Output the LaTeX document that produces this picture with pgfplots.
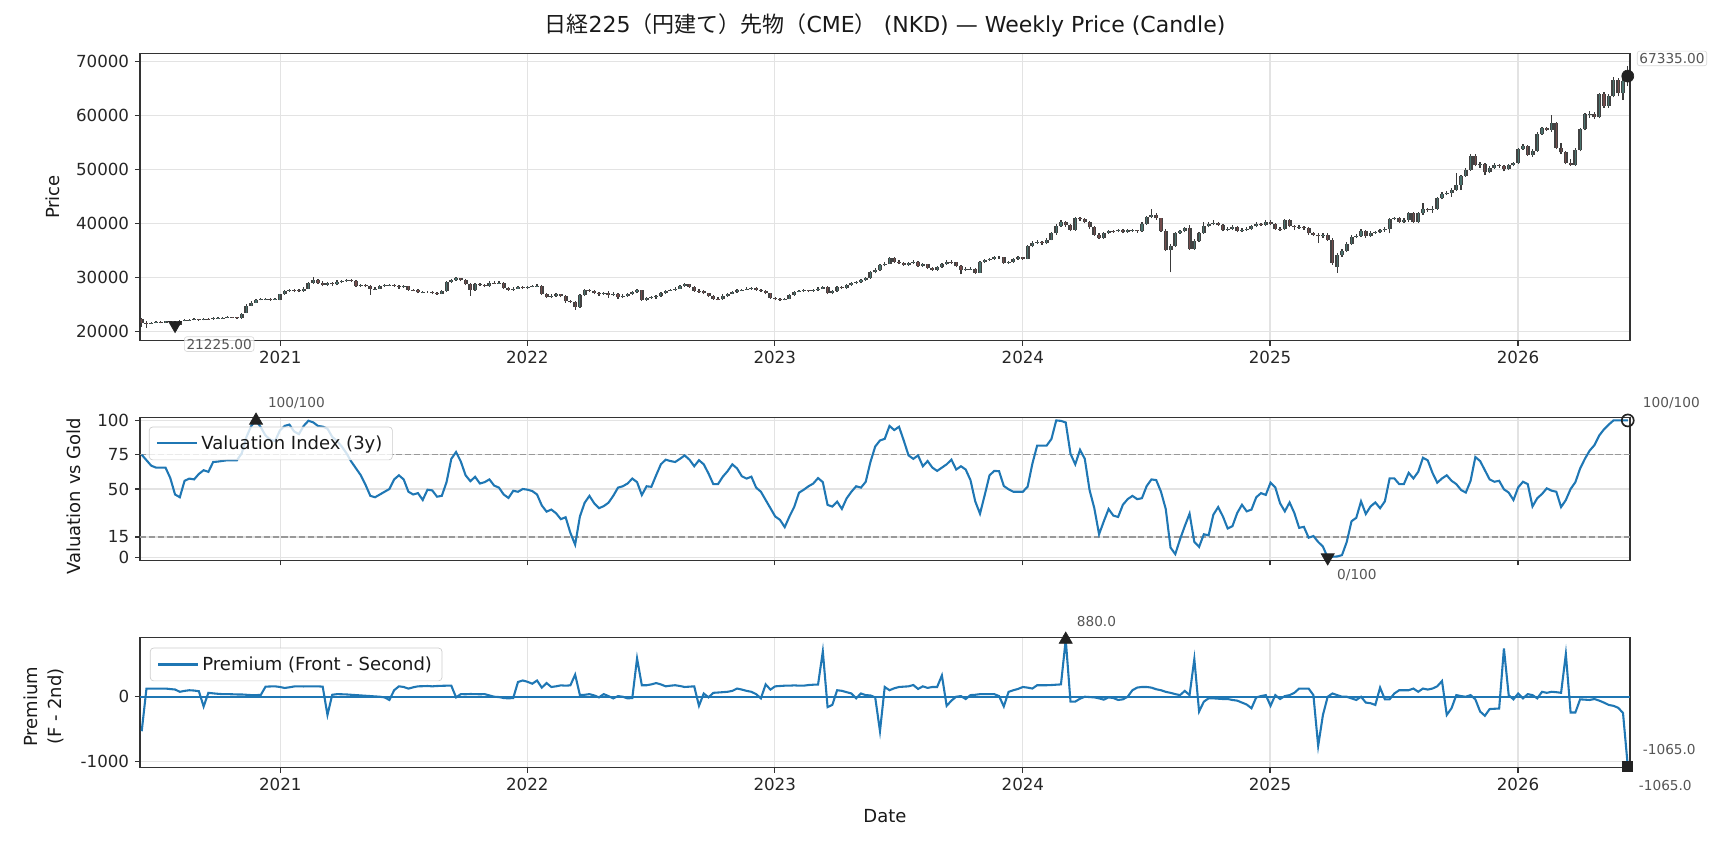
\documentclass[border=0pt]{standalone}
\usepackage{fontspec}
\setmainfont{DejaVu Sans}
\newfontfamily\cjk{Noto Sans CJK JP}
\usepackage{pgfplots}
\usepackage{pgfplotstable}
\pgfplotsset{compat=1.18}

\definecolor{seriesblue}{HTML}{1F77B4}
\definecolor{wickc}{HTML}{3A3A3A}
\definecolor{bodyedge}{HTML}{424242}
\definecolor{upc}{HTML}{4A736E}
\definecolor{downc}{HTML}{744C4C}
\definecolor{markc}{HTML}{222222}
\definecolor{annc}{HTML}{555555}
\definecolor{gridc}{HTML}{E3E3E3}
\definecolor{refgray}{HTML}{999999}

% weekly OHLC, w = week index from the first bar
\pgfplotstableread{
w o h l c
0 22400 22600 20900 21700
1 21700 21900 20750 21500
2 21500 21800 21400 21650
3 21650 21950 21550 21800
4 21800 21900 21550 21700
5 21700 22050 21600 21900
6 21900 22000 21700 21850
7 21850 21950 21100 21225
8 21225 22100 21200 22000
9 22000 22300 21900 22150
10 22150 22400 22050 22250
11 22250 22450 22100 22300
12 22300 22400 21950 22200
13 22200 22550 22100 22400
14 22400 22500 22200 22350
15 22350 22650 22250 22500
16 22500 22700 22400 22550
17 22550 22750 22450 22600
18 22600 22850 22500 22700
19 22700 22800 22500 22650
20 22650 22750 22350 22500
21 22600 23500 22400 23300
22 23500 25100 23400 24800
23 24800 25600 24700 25400
24 25400 26100 25300 25900
25 25900 26200 25800 26000
26 26000 26250 25850 26050
27 26050 26200 25750 25950
28 25950 26300 25850 26100
29 25900 27000 25800 26900
30 26900 27800 26800 27600
31 27600 28000 27400 27800
32 27800 28000 27300 27700
33 27700 27900 27300 27500
34 27500 28200 27400 28000
35 28000 29200 27900 29000
36 29000 30100 28900 29600
37 29600 29800 28900 29100
38 29100 29300 28400 28700
39 28700 29200 28500 29000
40 29000 29200 28500 28800
41 28800 29500 28600 29200
42 29200 29500 29000 29300
43 29300 29800 29200 29600
44 29600 29700 29200 29400
45 29400 29500 28300 28500
46 28500 28900 28300 28700
47 28700 28900 28200 28400
48 28400 28700 26800 27900
49 27900 28300 27700 28000
50 28000 28700 27900 28500
51 28500 28800 28300 28600
52 28600 28900 28400 28700
53 28700 28900 28300 28500
54 28500 28700 28000 28300
55 28300 28600 28100 28400
56 28400 28500 27600 27800
57 27800 28000 27500 27700
58 27700 27900 27100 27300
59 27300 27600 27100 27400
60 27400 27600 27200 27400
61 27400 27600 26900 27200
62 27200 27400 26800 27000
63 27000 27700 26900 27500
64 27500 29400 27400 29200
65 29200 29800 29000 29600
66 29600 30200 29400 29900
67 29900 30000 29300 29500
68 29500 29700 28600 28800
69 28800 29000 26700 27800
70 27800 29000 27600 28800
71 28800 29000 28500 28700
72 28700 28900 28200 28400
73 28400 29300 28300 29100
74 29100 29300 28800 29000
75 29000 29300 28900 29100
76 29100 29200 27900 28100
77 28100 28300 27600 27800
78 27800 28200 27600 28000
79 28000 28400 27900 28200
80 28200 28400 27900 28100
81 28100 28500 28000 28300
82 28300 28600 28200 28400
83 28400 28900 28200 28500
84 28500 28600 26800 27000
85 27000 27200 26200 26400
86 26400 26900 26200 26700
87 26700 27100 26500 26900
88 26900 27000 26400 26600
89 26600 26800 25400 25600
90 25600 25900 25300 25500
91 25500 25700 24100 24600
92 24600 27000 24400 26800
93 26800 28000 26600 27800
94 27800 28000 27300 27600
95 27600 27800 26900 27100
96 27100 27400 26700 27000
97 27000 27400 26800 27200
98 27200 27500 26300 26800
99 26800 27300 26600 27000
100 27000 27200 26100 26400
101 26400 26900 26200 26700
102 26700 27200 26500 27000
103 27000 27500 26800 27300
104 27300 28000 27100 27700
105 27700 27800 25700 25900
106 25900 26500 25700 26300
107 26300 26600 26100 26400
108 26400 26800 26100 26600
109 26600 27300 26500 27100
110 27100 27800 27000 27600
111 27600 28000 27500 27800
112 27800 28200 27600 28000
113 28000 28600 27900 28400
114 28400 29000 28300 28800
115 28800 28900 28100 28300
116 28300 28400 27400 27600
117 27600 27900 27200 27500
118 27500 27700 26900 27100
119 27100 27200 26400 26600
120 26600 26800 25900 26100
121 26100 26400 25800 26000
122 26000 26900 25900 26700
123 26700 27200 26500 27000
124 27000 27500 26900 27300
125 27300 27900 27200 27700
126 27700 28000 27600 27800
127 27800 28200 27700 28000
128 28000 28300 27800 28100
129 28100 28200 27600 27800
130 27800 28000 27400 27600
131 27600 27700 26900 27100
132 27100 27200 26100 26300
133 26300 26500 25800 26000
134 26000 26200 25700 25900
135 25900 26300 25800 26100
136 26100 27000 26000 26800
137 26800 27600 26700 27400
138 27400 27700 27300 27500
139 27500 27900 27400 27700
140 27700 27800 27300 27500
141 27500 27900 27400 27700
142 27700 28200 27500 28000
143 28000 28500 27900 28300
144 28300 28400 26900 27100
145 27100 27700 26900 27500
146 27500 28400 27400 28200
147 28200 28400 27900 28100
148 28100 28800 28000 28600
149 28600 29200 28500 29000
150 29000 29400 28800 29200
151 29200 29700 29000 29500
152 29500 30100 29400 29900
153 29900 31200 29800 31000
154 31000 31800 30800 31500
155 31500 32500 31300 32300
156 32300 32900 32100 32600
157 32600 33900 32500 33600
158 33600 33900 32800 33000
159 33000 33200 32500 32800
160 32800 33000 32200 32400
161 32400 32900 32200 32700
162 32700 33300 32500 33000
163 33000 33100 32000 32200
164 32200 32700 32000 32500
165 32500 32600 31600 31800
166 31800 32000 31300 31500
167 31500 32200 31300 32000
168 32000 32800 31800 32600
169 32600 33300 32400 33000
170 33000 33200 32600 32900
171 32900 33000 31900 32100
172 32100 32300 30600 31500
173 31500 31900 31300 31600
174 31600 32000 31400 31700
175 31700 31800 30700 30900
176 30900 33100 30800 32900
177 32900 33500 32700 33300
178 33300 33700 33100 33500
179 33500 34000 33300 33800
180 33800 34100 33500 33800
181 33800 33900 32600 32800
182 32800 33100 32600 32900
183 32900 33700 32700 33500
184 33500 34000 33300 33800
185 33800 33900 33300 33500
186 33500 36000 33400 35800
187 35800 36800 35600 36500
188 36500 36900 36200 36600
189 36600 36800 36100 36400
190 36400 37300 36200 37000
191 37000 38500 36900 38200
192 38200 39900 38000 39600
193 39600 40600 39400 40300
194 40300 40500 39400 39700
195 39700 39900 38600 38900
196 38900 41300 38700 41000
197 41000 41200 40500 40800
198 40800 41000 40100 40300
199 40300 40500 39000 39300
200 39300 39500 37800 38000
201 38000 38300 37200 37400
202 37400 38500 37200 38300
203 38300 38900 38100 38700
204 38700 38900 38300 38600
205 38600 39100 38400 38900
206 38900 39000 38200 38500
207 38500 39000 38300 38800
208 38800 39100 38500 38850
209 38850 38900 38300 38600
210 38600 40300 38500 40000
211 40000 41500 39800 41200
212 41200 42800 41000 41600
213 41600 41900 40700 41000
214 41000 41100 38500 38700
215 38700 39000 34900 35100
216 35100 36200 31000 35900
217 35900 38500 35700 38300
218 38300 38900 38100 38600
219 38600 39400 38400 39200
220 39200 39700 35200 35400
221 35400 37100 35200 36800
222 36800 38500 36600 38300
223 38300 40300 38100 39500
224 39500 40300 39300 39900
225 39900 40600 39700 40200
226 40200 40400 39600 39800
227 39800 39900 38600 38800
228 38800 39300 38600 39000
229 39000 39700 38800 39400
230 39400 39500 38400 38700
231 38700 39200 38500 38900
232 38900 39300 38700 39000
233 39000 39700 38800 39500
234 39500 40300 39300 40000
235 40000 40200 39600 39800
236 39800 40700 39600 40400
237 40400 40600 39700 39900
238 39900 40100 38900 39100
239 39100 39400 38700 39000
240 39000 40900 38800 40600
241 40600 40800 39300 39500
242 39500 39700 38800 39300
243 39300 39800 39000 39400
244 39400 39600 38900 39200
245 39200 39300 37900 38200
246 38200 38500 37700 38000
247 38000 38300 36400 37700
248 37700 38300 37400 38000
249 38000 38300 36800 37000
250 37000 37300 32400 32700
251 32000 34500 30900 34200
252 34200 35300 33900 35000
253 35000 36600 34800 36300
254 36300 37900 36100 37500
255 37500 38100 37300 37800
256 37800 39000 37600 38600
257 38600 38800 37400 37700
258 37700 38600 37500 38300
259 38300 38700 38100 38400
260 38400 39100 38200 38800
261 38800 39300 38500 39000
262 39000 41100 38200 40900
263 40900 41300 40600 41000
264 41000 41200 40200 40400
265 40400 41000 40100 40700
266 40700 42100 40400 41900
267 41900 42100 40100 40300
268 40300 42200 40100 41900
269 41900 43800 41700 42800
270 42800 43000 42200 42500
271 42500 43200 42000 42800
272 42800 45000 42600 44800
273 44800 45900 44500 45500
274 45500 46000 45300 45700
275 45700 46600 45000 46300
276 46300 49300 46100 47200
277 47200 49100 46200 48900
278 48900 50300 48700 50000
279 50000 52900 49800 52500
280 52500 52900 50600 50800
281 50800 51400 50400 51000
282 51000 51200 49000 49500
283 49500 50600 49300 50300
284 50300 51200 50100 50900
285 50900 51100 50400 50700
286 50700 50900 49700 50100
287 50100 51000 49900 50800
288 50800 51500 50600 51300
289 51300 54100 51100 53900
290 53900 54800 53700 54400
291 54400 54600 52600 52800
292 52800 53800 52400 53500
293 53500 57000 53300 56700
294 56700 58000 56500 57700
295 57700 58000 57200 57400
296 57400 60100 57000 58600
297 58600 58900 53800 54000
298 54000 55000 52900 53200
299 53200 53400 51000 51200
300 51200 52000 50700 50900
301 50900 54000 50700 53700
302 53700 57800 53400 57600
303 57600 60500 57300 60300
304 60300 60800 59600 60400
305 60400 60600 59400 59700
306 59700 64200 59500 64000
307 64000 64300 61500 61800
308 61800 64000 61500 63600
309 63600 67100 63400 66700
310 66700 67000 63600 64200
311 64200 67600 63000 66400
312 66400 69137 65500 67335
}\ohlc

\tikzset{
  annot/.style={font=\fontsize{8.2}{10}\selectfont, text=annc, inner sep=1pt},
  pricebox/.style={annot, fill=white, fill opacity=0.75, text opacity=1,
    draw=black!15, rounded corners=1.5pt, inner sep=1.3pt},
}

\pgfplotsset{
  panel/.style={
    scale only axis, width=894pt, anchor=north west,
    xmin=-0.36, xmax=312.47,
    xtick={29.1,80.96,132.9,185.0,236.9,288.96},
    xticklabels={2021,2022,2023,2024,2025,2026},
    scaled x ticks=false, scaled y ticks=false,
    grid=major,
    major grid style={draw=gridc, line width=0.7pt},
    axis line style={draw=black!80, line width=0.9pt},
    tick align=outside, xtick pos=left, ytick pos=left,
    major tick length=3pt,
    tick style={draw=black!80, line width=0.7pt},
    tick label style={font=\fontsize{10}{12}\selectfont, text=black!85},
    label style={font=\fontsize{10.8}{14.4}\selectfont, text=black!90},
    /pgf/number format/assume math mode=true,
    clip mode=individual,
    legend cell align=left,
    legend image code/.code={\draw[##1, line width=1.25pt] (0pt,0pt) -- (24pt,0pt);},
  },
  % a plot that shows nothing but its vertical error bars
  barsonly/.style 2 args={draw=none, mark=none, forget plot,
    error bars/.cd, y dir=plus, y explicit, error mark=none,
    error bar style={draw=#1, line width=#2, solid}},
  rising/.style={x filter/.expression={\thisrow{c}<\thisrow{o} ? nan : x}},
  falling/.style={x filter/.expression={\thisrow{c}<\thisrow{o} ? x : nan}},
}

\begin{document}
\begin{tikzpicture}
\useasboundingbox (0pt,0pt) rectangle (1036.8pt,-509.4pt);

% ---- weekly candles ----
\begin{axis}[panel, at={(84pt,-31.98pt)}, height=172.44pt,
  ymin=18333, ymax=71556,
  ytick={20000,30000,40000,50000,60000,70000},
  yticklabels={20000,30000,40000,50000,60000,70000},
  ylabel={Price},
  ylabel style={at={(axis description cs:-0.0584,0.5)}, anchor=center},
  title={{\cjk 日経}225{\cjk （円建て）先物（}CME{\cjk ）} (NKD) — Weekly Price (Candle)},
  title style={at={(axis description cs:0.5,1)}, anchor=center, yshift=10.8pt,
    font=\fontsize{13.2}{15}\selectfont, text=black!90},
]
% wicks
\addplot[barsonly={wickc}{0.75pt}]
  table[x=w, y=l, y error plus expr=\thisrow{h}-\thisrow{l}] {\ohlc};
% bodies, rising weeks
\addplot[rising, barsonly={bodyedge}{2.4pt}]
  table[x=w, y=o, y error plus expr=\thisrow{c}-\thisrow{o}] {\ohlc};
\addplot[rising, barsonly={upc}{0.7pt}]
  table[x=w, y=o, y error plus expr=\thisrow{c}-\thisrow{o}] {\ohlc};
% bodies, falling weeks
\addplot[falling, barsonly={bodyedge}{2.4pt}]
  table[x=w, y=c, y error plus expr=\thisrow{o}-\thisrow{c}] {\ohlc};
\addplot[falling, barsonly={downc}{0.7pt}]
  table[x=w, y=c, y error plus expr=\thisrow{o}-\thisrow{c}] {\ohlc};
% lowest close and latest close
\addplot[only marks, mark=triangle*, mark size=4.5pt, forget plot,
  mark options={rotate=180, fill=markc, draw=markc}] coordinates {(7,21225)};
\addplot[only marks, mark=*, mark size=3.6pt, forget plot,
  mark options={fill=markc, draw=markc}] coordinates {(312,67335)};
\node[pricebox, anchor=west, xshift=5.4pt, yshift=-11.4pt] at (axis cs:7,21225) {21225.00};
\node[pricebox, anchor=west, xshift=5.5pt, yshift=10.6pt] at (axis cs:312,67335) {67335.00};
\end{axis}

% ---- valuation index ----
\begin{axis}[panel, at={(84pt,-250.62pt)}, height=85.56pt,
  ymin=-2, ymax=102,
  ytick={0,15,50,75,100}, yticklabels={0,15,50,75,100},
  xticklabels={},
  ylabel={Valuation vs Gold},
  ylabel style={at={(axis description cs:-0.0443,0.45)}, anchor=center},
  legend style={at={(axis description cs:0.006,0.937)}, anchor=north west,
    draw=black!20, fill=white, fill opacity=0.8, draw opacity=1, text opacity=1,
    rounded corners=2pt, font=\fontsize{10.8}{13}\selectfont, text=black!90,
    inner xsep=4pt, inner ysep=3pt},
]
\addplot[forget plot, refgray, line width=0.9pt, dash pattern=on 3.7pt off 1.6pt]
  coordinates {(-0.36,75) (312.47,75)};
\addplot[forget plot, refgray, line width=0.9pt, dash pattern=on 3.7pt off 1.6pt]
  coordinates {(-0.36,15) (312.47,15)};
\addplot[seriesblue, line width=1.25pt] coordinates {
(0,75)(1,71)(2,67)(3,65.6)(4,65.6)(5,65.6)(6,58)(7,46)(8,44)(9,56)(10,57.6)(11,57)(12,61)(13,63.7)(14,62.5)(15,69.7)(16,70)(17,70.5)(18,71)(19,71)
(20,71)(21,76)(22,88)(23,96)(24,100)(25,95)(26,89)(27,86)(28,85)(29,92.6)(30,96)(31,97)(32,92)(33,90)(34,96)(35,99.8)(36,98.6)(37,96)(38,95.5)(39,94)
(40,88)(41,85)(42,81)(43,76)(44,70)(45,65)(46,60)(47,53)(48,45)(49,44)(50,46)(51,48)(52,50)(53,57)(54,60)(55,57)(56,48)(57,46)(58,47)(59,42)
(60,49.5)(61,49)(62,44.4)(63,45)(64,55)(65,72)(66,77)(67,70)(68,60)(69,55.7)(70,58.9)(71,54)(72,55)(73,57)(74,52.5)(75,51)(76,46)(77,43.5)(78,48.7)(79,48)
(80,50)(81,49.5)(82,48.5)(83,46)(84,38)(85,33.5)(86,35)(87,32.3)(88,28)(89,29.4)(90,18)(91,9.4)(92,30)(93,40)(94,45)(95,39.6)(96,36)(97,37.5)(98,40)(99,45)
(100,51)(101,52)(102,54)(103,57.6)(104,55)(105,45.6)(106,52)(107,51.6)(108,60)(109,68)(110,71.4)(111,70.4)(112,69.7)(113,72)(114,74.5)(115,71.4)(116,66.6)(117,71)(118,68)(119,61.3)
(120,53.6)(121,53.6)(122,59)(123,63)(124,68)(125,65)(126,59.3)(127,57.6)(128,59)(129,51)(130,48)(131,42)(132,36)(133,30)(134,27.5)(135,22.2)(136,30)(137,37)(138,47.3)(139,49.5)
(140,52)(141,54)(142,58)(143,55)(144,38.4)(145,37.2)(146,40.8)(147,35.5)(148,43.2)(149,48)(150,52)(151,51)(152,55.2)(153,69.7)(154,81)(155,85.4)(156,86.6)(157,96)(158,93)(159,95.4)
(160,85.3)(161,74.5)(162,72)(163,74.5)(164,66.6)(165,70.4)(166,65.6)(167,63.2)(168,65.6)(169,68)(170,71.4)(171,64.2)(172,66.6)(173,64.2)(174,56.5)(175,41)(176,32)(177,45.7)(178,60)(179,63.2)
(180,63)(181,52.2)(182,49.8)(183,48)(184,48)(185,48)(186,51.7)(187,68.5)(188,81.7)(189,81.7)(190,81.7)(191,86.5)(192,100)(193,99.7)(194,98.5)(195,75.7)(196,68)(197,78.6)(198,72)(199,49.3)
(200,36)(201,17)(202,26.5)(203,35.4)(204,30.6)(205,29.6)(206,38.5)(207,42.6)(208,45)(209,42.6)(210,43.3)(211,52.2)(212,57)(213,56.5)(214,48)(215,35.4)(216,7.3)(217,2.5)(218,13.3)(219,23)
(220,32)(221,11.4)(222,7.8)(223,17)(224,16.2)(225,31.3)(226,36.8)(227,30)(228,21.2)(229,22.9)(230,32.5)(231,38.5)(232,33.7)(233,35)(234,44)(235,47)(236,45.7)(237,54.6)(238,51.2)(239,39.6)
(240,33.7)(241,40.2)(242,32.5)(243,21.7)(244,22.4)(245,14.5)(246,15.7)(247,11.4)(248,8)(249,0)(250,0.6)(251,0.8)(252,1.8)(253,11.4)(254,26.5)(255,29)(256,41)(257,31.8)(258,37.3)(259,40.2)
(260,36)(261,41)(262,57.7)(263,57.7)(264,53.6)(265,53.6)(266,61.8)(267,57.7)(268,62.5)(269,72.8)(270,70.9)(271,61.8)(272,54.6)(273,57.7)(274,60)(275,56)(276,53.6)(277,49.3)(278,47.4)(279,56)
(280,73.3)(281,70.4)(282,63.7)(283,57)(284,55.3)(285,56)(286,49.8)(287,47.4)(288,42)(289,51.2)(290,55.3)(291,53.6)(292,37.3)(293,43.3)(294,46.4)(295,50.5)(296,48.8)(297,48)(298,36.8)(299,42)
(300,50)(301,55)(302,65)(303,72)(304,78)(305,82)(306,89)(307,93.5)(308,97)(309,100)(310,100)(311,100)(312,100)
};
\addlegendentry{Valuation Index (3y)}
\addplot[only marks, mark=triangle*, mark size=4.5pt, forget plot,
  mark options={fill=markc, draw=markc}] coordinates {(24,100)};
\addplot[only marks, mark=triangle*, mark size=4.5pt, forget plot,
  mark options={rotate=180, fill=markc, draw=markc}] coordinates {(249,0)};
\addplot[only marks, mark=o, mark size=3.6pt, forget plot,
  mark options={draw=markc, line width=1pt}] coordinates {(312,100)};
\node[annot, anchor=west, xshift=6pt, yshift=10.6pt] at (axis cs:24,100) {100/100};
\node[annot, anchor=west, xshift=7.9pt, yshift=10.6pt] at (axis cs:312,100) {100/100};
\node[annot, anchor=west, xshift=4.5pt, yshift=-10.2pt] at (axis cs:249,0) {0/100};
\end{axis}

% ---- front minus second month premium ----
\begin{axis}[panel, at={(84pt,-382.62pt)}, height=78pt,
  ymin=-1092, ymax=908,
  ytick={-1000,0}, yticklabels={-1000,0},
  ylabel={Premium\\(F - 2nd)},
  ylabel style={at={(axis description cs:-0.0644,0.47)}, anchor=center, align=center},
  xlabel={Date},
  xlabel style={at={(axis description cs:0.5,-0.369)}, anchor=center},
  legend style={at={(axis description cs:0.0067,0.923)}, anchor=north west,
    draw=black!20, fill=white, fill opacity=0.8, draw opacity=1, text opacity=1,
    rounded corners=2pt, font=\fontsize{10.8}{13}\selectfont, text=black!90,
    inner xsep=4pt, inner ysep=3pt},
]
\addplot[forget plot, seriesblue, line width=1.1pt] coordinates {(-0.36,0) (312.47,0)};
\addplot[seriesblue, line width=1.25pt] coordinates {
(0,-530)(1,126)(2,126)(3,126)(4,126)(5,126)(6,118)(7,111)(8,76)(9,90)(10,100)(11,95)(12,85)(13,-150)(14,60)(15,52)(16,45)(17,40)(18,40)(19,38)
(20,35)(21,35)(22,30)(23,25)(24,25)(25,28)(26,155)(27,158)(28,160)(29,150)(30,135)(31,145)(32,158)(33,160)(34,158)(35,160)(36,160)(37,160)(38,155)(39,-280)
(40,30)(41,40)(42,38)(43,35)(44,30)(45,25)(46,20)(47,15)(48,10)(49,5)(50,0)(51,-10)(52,-50)(53,100)(54,160)(55,150)(56,125)(57,145)(58,160)(59,162)
(60,165)(61,160)(62,165)(63,168)(64,170)(65,170)(66,-10)(67,40)(68,38)(69,42)(70,40)(71,38)(72,40)(73,20)(74,0)(75,-5)(76,-20)(77,-25)(78,-20)(79,227)
(80,250)(81,230)(82,200)(83,250)(84,140)(85,210)(86,150)(87,160)(88,175)(89,170)(90,175)(91,340)(92,25)(93,30)(94,40)(95,20)(96,-10)(97,40)(98,10)(99,-25)
(100,10)(101,0)(102,-25)(103,-20)(104,590)(105,177)(106,177)(107,190)(108,210)(109,190)(110,160)(111,170)(112,177)(113,165)(114,150)(115,155)(116,160)(117,-140)(118,50)(119,-10)
(120,60)(121,65)(122,70)(123,76)(124,90)(125,126)(126,110)(127,90)(128,76)(129,40)(130,-25)(131,190)(132,110)(133,160)(134,165)(135,170)(136,170)(137,175)(138,170)(139,170)
(140,180)(141,185)(142,187)(143,697)(144,-160)(145,-125)(146,100)(147,91)(148,70)(149,50)(150,-25)(151,50)(152,25)(153,20)(154,-10)(155,-530)(156,150)(157,100)(158,130)(159,150)
(160,155)(161,160)(162,180)(163,120)(164,160)(165,136)(166,150)(167,150)(168,328)(169,-140)(170,-60)(171,0)(172,10)(173,-35)(174,25)(175,30)(176,40)(177,40)(178,40)(179,40)
(180,10)(181,-150)(182,75)(183,100)(184,120)(185,150)(186,140)(187,126)(188,177)(189,177)(190,177)(191,180)(192,185)(193,190)(194,880)(195,-75)(196,-75)(197,-30)(198,0)(199,-5)
(200,-10)(201,-25)(202,-45)(203,-10)(204,-20)(205,-50)(206,-40)(207,0)(208,100)(209,141)(210,150)(211,150)(212,140)(213,115)(214,100)(215,75)(216,60)(217,40)(218,25)(219,90)
(220,25)(221,580)(222,-227)(223,-75)(224,-25)(225,-25)(226,-30)(227,-35)(228,-35)(229,-50)(230,-60)(231,-90)(232,-120)(233,-177)(234,-10)(235,10)(236,25)(237,-140)(238,25)(239,-35)
(240,10)(241,25)(242,60)(243,126)(244,126)(245,126)(246,25)(247,-757)(248,-280)(249,0)(250,50)(251,25)(252,0)(253,0)(254,-25)(255,-50)(256,0)(257,-90)(258,-100)(259,-126)
(260,141)(261,-40)(262,-40)(263,50)(264,100)(265,100)(266,100)(267,126)(268,76)(269,126)(270,110)(271,126)(272,160)(273,242)(274,-280)(275,-177)(276,25)(277,10)(278,0)(279,25)
(280,-40)(281,-227)(282,-293)(283,-190)(284,-185)(285,-182)(286,742)(287,25)(288,-40)(289,50)(290,-25)(291,40)(292,25)(293,-25)(294,76)(295,60)(296,76)(297,70)(298,60)(299,657)
(300,-242)(301,-242)(302,-40)(303,-45)(304,-50)(305,-35)(306,-60)(307,-90)(308,-126)(309,-140)(310,-170)(311,-250)(312,-1065)
};
\addlegendentry{Premium (Front - Second)}
\addplot[only marks, mark=triangle*, mark size=4.5pt, forget plot,
  mark options={fill=markc, draw=markc}] coordinates {(194,880)};
\addplot[only marks, mark=square*, mark size=3pt, forget plot,
  mark options={fill=markc, draw=markc}] coordinates {(312,-1065)};
\node[annot, anchor=west, xshift=5.5pt, yshift=10.7pt] at (axis cs:194,880) {880.0};
\node[annot, anchor=west, xshift=7.9pt, yshift=10.1pt] at (axis cs:312,-1065) {-1065.0};
\node[annot, anchor=west, xshift=5.5pt, yshift=-11.5pt] at (axis cs:312,-1065) {-1065.0};
\end{axis}
\end{tikzpicture}
\end{document}
